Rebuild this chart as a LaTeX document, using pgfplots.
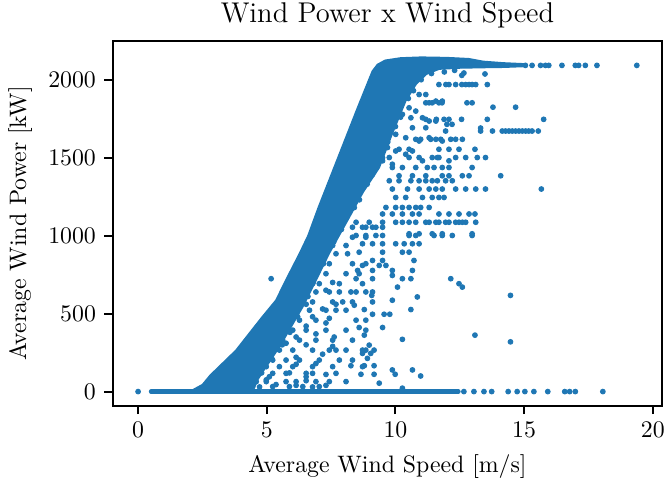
\documentclass[border=0pt]{standalone}
\usepackage{pgfplots}
\usepackage{pgfplotstable}
\pgfplotsset{compat=1.18}
\definecolor{mplblue}{HTML}{1F77B4}

% Outline of the dense band of 10-minute averages (the main power curve)
\pgfplotstableread{
x y
2.00 0
2.50 45
2.80 105
3.30 185
3.80 265
4.30 370
4.80 475
5.35 585
5.80 735
6.27 886
6.60 1000
7.00 1180
7.50 1390
8.00 1600
8.50 1810
9.10 2055
9.30 2098
9.60 2125
10.20 2140
11.00 2145
12.00 2142
12.85 2135
13.40 2118
14.20 2108
15.00 2102
15.00 2085
14.20 2080
13.40 2078
12.50 2075
11.70 2068
11.20 2035
10.80 1970
10.40 1863
9.87 1650
9.37 1435
8.75 1280
8.20 1115
7.43 886
7.05 758
6.39 540
5.49 285
4.90 140
4.35 0
}\bandtable

% Scattered averages away from the power curve
\pgfplotstableread{
x y
0.00 0
12.66 0
13.05 0
13.44 0
13.74 0
14.38 0
14.73 0
15.03 0
15.38 0
15.92 0
16.58 0
16.77 0
16.99 0
18.06 0
15.05 2092
15.31 2092
15.64 2092
15.83 2092
15.96 2092
16.47 2092
16.99 2092
17.12 2092
17.38 2092
17.83 2092
19.38 2092
12.66 2043
12.58 2028
13.48 2037
11.69 1969
11.96 1969
12.08 1969
12.34 1969
12.58 1969
12.73 1969
12.86 1969
12.98 1969
13.12 1969
13.57 1969
10.92 1905
11.18 1905
11.57 1863
11.82 1863
11.18 1852
11.31 1852
11.43 1852
11.69 1852
11.81 1852
12.78 1852
12.98 1852
13.79 1824
14.67 1824
10.53 1820
10.79 1799
10.27 1778
11.05 1756
10.60 1756
11.18 1746
11.59 1746
11.89 1746
12.08 1746
12.57 1746
13.57 1746
15.76 1746
11.31 1735
11.57 1735
12.00 1714
12.20 1714
10.66 1692
11.18 1692
13.31 1690
11.95 1671
13.31 1671
13.77 1671
14.15 1671
14.28 1671
14.41 1671
14.54 1671
14.67 1671
14.80 1671
14.93 1671
15.06 1671
15.18 1671
15.31 1671
15.55 1671
10.01 1650
10.40 1628
11.31 1628
10.79 1618
10.98 1618
11.37 1618
11.57 1618
11.76 1618
12.15 1618
12.34 1618
12.60 1618
10.92 1607
11.82 1607
9.69 1565
10.14 1554
10.53 1554
11.69 1554
12.08 1554
12.47 1554
13.09 1554
10.01 1543
10.66 1543
10.40 1522
9.76 1501
10.53 1501
10.92 1501
11.43 1501
11.63 1501
11.69 1501
12.34 1501
12.73 1501
13.18 1501
13.50 1501
9.50 1480
11.05 1480
12.08 1480
9.88 1458
9.88 1437
10.27 1437
10.79 1437
11.24 1437
11.50 1437
11.82 1437
12.08 1437
12.98 1437
10.14 1384
10.66 1384
11.18 1384
11.82 1384
12.08 1384
12.60 1384
12.86 1384
14.09 1384
9.76 1352
10.14 1352
10.60 1352
10.92 1352
11.18 1352
11.43 1352
11.63 1352
11.95 1352
12.21 1352
9.88 1299
10.47 1299
10.92 1299
11.31 1299
11.57 1299
11.82 1299
12.34 1299
12.73 1299
13.12 1299
13.50 1299
15.67 1299
10.01 1245
10.40 1245
11.05 1245
11.43 1245
11.69 1245
11.89 1245
9.63 1181
10.01 1181
10.27 1181
10.53 1181
10.79 1181
10.98 1181
11.31 1181
9.50 1139
9.88 1139
10.27 1139
10.66 1139
10.92 1139
11.69 1139
12.08 1139
12.47 1139
12.86 1139
13.09 1139
8.47 1086
8.98 1086
9.50 1086
10.01 1086
10.27 1086
10.53 1086
10.79 1086
11.18 1086
11.31 1086
11.57 1086
11.69 1086
11.95 1086
12.08 1086
12.34 1086
12.47 1086
12.60 1086
12.73 1086
13.12 1086
8.33 1054
8.72 1054
8.85 1054
9.11 1054
9.24 1054
9.50 1054
10.53 1012
10.92 1012
11.43 1012
11.82 1012
12.98 1012
8.47 1001
8.85 1001
9.24 1001
9.50 1001
10.53 1001
10.79 1001
11.50 1001
11.82 1001
12.21 1001
12.98 1001
8.33 990
8.85 990
7.56 937
8.08 937
8.72 948
9.11 948
9.50 948
10.01 948
10.34 948
10.66 948
10.92 948
7.69 884
8.14 884
8.59 894
9.50 894
10.27 894
10.53 894
9.11 841
9.50 841
10.72 841
7.43 820
8.33 820
8.85 820
8.72 809
9.37 809
9.63 809
8.53 777
9.11 777
9.88 777
10.66 777
7.30 756
8.08 756
8.59 756
9.88 745
8.47 724
9.11 724
10.27 724
10.60 724
12.15 724
5.17 724
7.04 692
7.82 692
8.72 692
12.47 692
10.08 670
12.60 670
6.91 639
7.43 639
7.82 639
8.27 639
8.47 639
8.85 639
9.11 639
9.08 617
14.47 617
10.85 607
9.88 586
6.78 575
7.56 575
7.95 575
8.33 575
9.11 575
8.40 554
6.66 522
7.30 522
7.69 522
8.08 522
8.79 526
10.60 526
9.11 496
9.56 496
9.78 496
6.27 458
6.91 458
8.47 458
8.85 458
8.59 411
9.50 411
6.01 394
6.53 394
7.30 394
8.08 394
8.85 394
8.79 362
13.09 362
10.27 335
5.62 330
6.27 330
6.91 330
7.56 330
8.33 330
14.47 319
8.98 298
5.49 266
6.01 266
6.78 266
7.43 266
7.69 266
8.08 266
8.72 266
8.85 266
9.17 266
8.72 245
9.04 245
8.91 213
5.23 202
5.75 202
6.27 202
7.04 202
7.82 202
8.33 202
8.27 166
8.79 166
9.17 166
4.98 160
5.49 160
6.01 160
6.78 160
7.56 160
8.72 160
9.88 139
10.66 139
4.72 117
5.23 117
5.75 117
6.53 117
6.78 117
7.69 117
8.66 111
9.17 111
9.99 111
10.98 100
4.59 64
4.98 64
5.75 64
6.14 64
6.91 64
7.43 64
8.08 64
9.37 54
4.46 32
5.23 32
5.88 32
6.40 32
7.04 32
10.27 22
6.78 692
7.30 650
7.56 700
6.53 560
6.78 480
7.17 530
7.43 470
7.69 560
5.88 437
6.14 350
6.53 420
6.91 370
7.30 440
7.62 350
5.75 310
6.14 220
6.53 300
7.17 240
7.56 290
4.84 180
5.10 95
5.88 120
6.14 175
6.53 95
6.91 180
7.30 110
4.72 30
4.98 75
5.36 45
6.14 40
6.53 70
6.78 30
7.30 40
8.40 1180
8.60 1230
8.90 1330
9.10 1390
9.50 1500
9.70 1600
10.00 1700
10.20 1760
10.50 1880
10.70 1930
11.00 2000
11.40 2040
11.90 2050
12.30 2060
7.60 960
7.90 1040
7.20 820
6.80 700
6.60 610
6.20 480
5.90 380
5.60 300
5.20 210
4.80 120
4.50 50
}\pointtable

\begin{document}
\begin{tikzpicture}
\begin{axis}[
  name=ax,
  scale only axis,
  width=231.1pt, height=153.4pt,
  xmin=-0.99, xmax=20.37,
  ymin=-91, ymax=2249,
  xtick={0,5,10,15,20},
  ytick={0,500,1000,1500,2000},
  minor tick num=0,
  tick align=outside,
  major tick length=3.5pt,
  tick style={black, line width=0.8pt},
  axis line style={line width=0.8pt},
  xtick pos=bottom, ytick pos=left,
  title={Wind Power x Wind Speed},
  title style={font=\large, yshift=-4pt},
  xlabel={Average Wind Speed [m/s]},
  ylabel={Average Wind Power [kW]},
  scaled ticks=false,
  yticklabel style={/pgf/number format/1000 sep={}},
  clip=true,
]
  % dense power-curve band
  \addplot[fill=mplblue, draw=mplblue, line width=0.6pt, line join=round] table[x=x, y=y] {\bandtable} -- cycle;
  % idle / curtailed periods at zero output
  \addplot[mplblue, line width=1.8pt, line cap=round] coordinates {(0.50,0) (12.45,0)};
  % scattered points
  \addplot[only marks, mark=*, mark size=1.0pt, mplblue, mark options={draw=mplblue, fill=mplblue}] table[x=x, y=y] {\pointtable};
\end{axis}
\pgfresetboundingbox
\path[use as bounding box] ([xshift=-47.35pt, yshift=-33.6pt]ax.south west) rectangle ([xshift=2.4pt, yshift=17.2pt]ax.north east);
\end{tikzpicture}
\end{document}
